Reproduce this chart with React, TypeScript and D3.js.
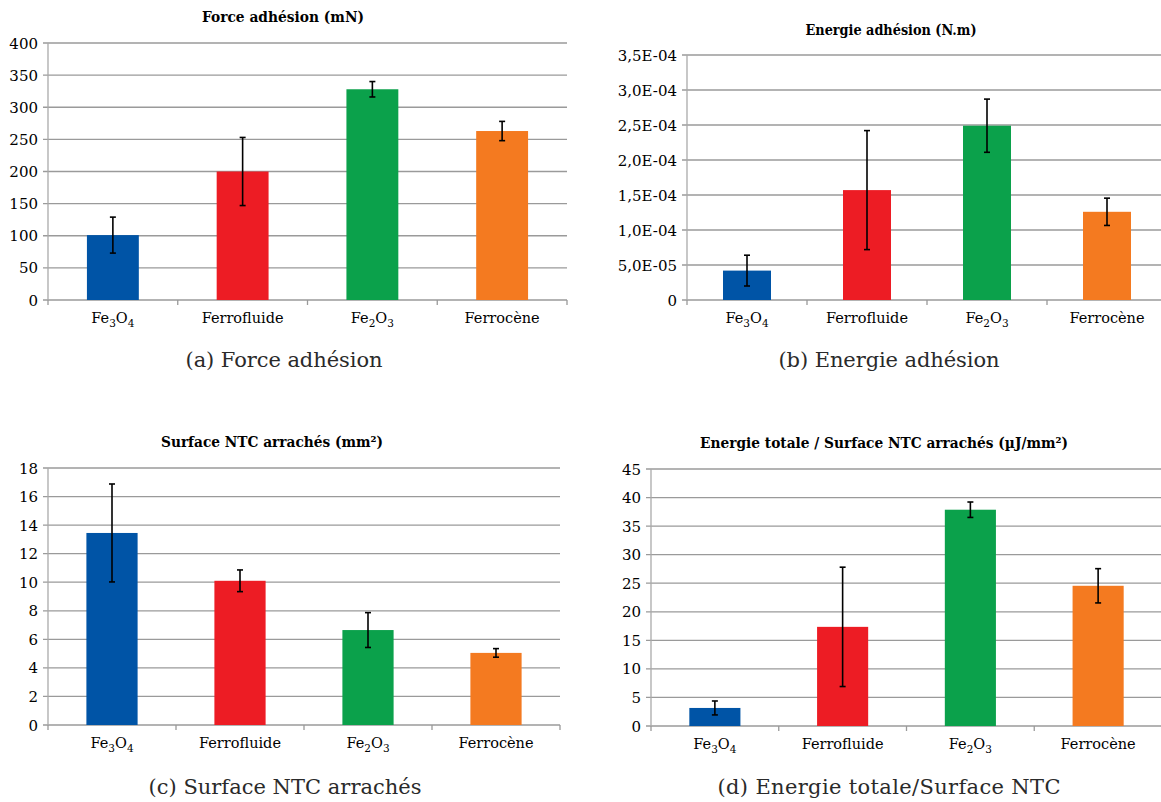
import React from "react";
import * as d3 from "d3";

const categories = ["Fe3O4", "Ferrofluide", "Fe2O3", "Ferrocène"];
const barColors = ["#0054a6", "#ed1c24", "#0ba14b", "#f47a20"];

const forceValues = [101, 200, 328, 263];
const forceErrors = [28, 53, 12, 15];
const forceTicks = [0, 50, 100, 150, 200, 250, 300, 350, 400];

const energyValues = [4.2e-5, 1.57e-4, 2.49e-4, 1.26e-4];
const energyErrors = [2.2e-5, 8.5e-5, 3.8e-5, 1.95e-5];
const energyTicks = [0, 5e-5, 1e-4, 1.5e-4, 2e-4, 2.5e-4, 3e-4, 3.5e-4];
const energyTickLabels = ["0", "5,0E-05", "1,0E-04", "1,5E-04", "2,0E-04", "2,5E-04", "3,0E-04", "3,5E-04"];

const surfaceValues = [13.45, 10.1, 6.65, 5.05];
const surfaceErrors = [3.43, 0.76, 1.22, 0.3];
const surfaceTicks = [0, 2, 4, 6, 8, 10, 12, 14, 16, 18];

const ratioValues = [3.16, 17.36, 37.87, 24.55];
const ratioErrors = [1.22, 10.45, 1.35, 3.0];
const ratioTicks = [0, 5, 10, 15, 20, 25, 30, 35, 40, 45];

const FONT = "DejaVu Serif";

type PanelProps = {
  left: number;
  right: number;
  top: number;
  bottom: number;
  values: number[];
  errors: number[];
  ticks: number[];
  tickLabels?: string[];
  title: string;
  titleX: number;
  titleY: number;
  titleW: number;
  caption: string;
  captionX: number;
  captionY: number;
  captionW: number;
};

function CatLabel({ text, x, y }: { text: string; x: number; y: number }) {
  const parts = text.match(/[^0-9]+|[0-9]+/g) || [text];
  return (
    <text x={x} y={y} textAnchor="middle" fontFamily={FONT} fontSize={14.5} fill="#000">
      {parts.map((p, i) =>
        /^[0-9]+$/.test(p) ? (
          <tspan key={i} fontSize={10.5} dy={3.5}>{p}</tspan>
        ) : (
          <tspan key={i} dy={i > 0 ? -3.5 : 0}>{p}</tspan>
        )
      )}
    </text>
  );
}

function Panel(p: PanelProps) {
  const x = d3.scaleBand<string>().domain(categories).range([p.left, p.right]).paddingInner(0).paddingOuter(0);
  const maxTick = p.ticks[p.ticks.length - 1];
  const y = d3.scaleLinear().domain([0, maxTick]).range([p.bottom, p.top]);
  const bw = x.bandwidth() * 0.4;
  const boundaries = d3.range(categories.length + 1).map((i) => p.left + i * x.bandwidth());
  return (
    <g>
      <text x={p.titleX} y={p.titleY} textAnchor="middle" fontFamily={FONT} fontWeight="bold" fontSize={14.5}
        textLength={p.titleW} lengthAdjust="spacingAndGlyphs" fill="#000">
        {p.title}
      </text>
      {p.ticks.map((t, i) => (
        <g key={i}>
          <line x1={p.left - 5} x2={p.right} y1={y(t)} y2={y(t)} stroke="#9a9a9a" strokeWidth={1.3} />
          <text x={p.left - 10} y={y(t) + 5.5} textAnchor="end" fontFamily={FONT} fontSize={15} fill="#000">
            {p.tickLabels ? p.tickLabels[i] : String(t)}
          </text>
        </g>
      ))}
      <line x1={p.left} x2={p.left} y1={p.top} y2={p.bottom} stroke="#aaaaaa" strokeWidth={1.3} />
      {boundaries.map((bx, i) => (
        <line key={i} x1={bx} x2={bx} y1={p.bottom} y2={p.bottom + 5} stroke="#9a9a9a" strokeWidth={1.3} />
      ))}
      {categories.map((c, i) => {
        const cx = (x(c) as number) + x.bandwidth() / 2;
        return (
          <rect key={c} x={cx - bw / 2} y={y(p.values[i])} width={bw} height={p.bottom - y(p.values[i])} fill={barColors[i]} />
        );
      })}
      {categories.map((c, i) => {
        const cx = (x(c) as number) + x.bandwidth() / 2;
        const hi = y(p.values[i] + p.errors[i]);
        const lo = y(p.values[i] - p.errors[i]);
        return (
          <g key={c} stroke="#000" strokeWidth={1.6}>
            <line x1={cx} x2={cx} y1={hi} y2={lo} />
            <line x1={cx - 3} x2={cx + 3} y1={hi} y2={hi} />
            <line x1={cx - 3} x2={cx + 3} y1={lo} y2={lo} />
          </g>
        );
      })}
      {categories.map((c) => (
        <CatLabel key={c} text={c} x={(x(c) as number) + x.bandwidth() / 2} y={p.bottom + 23} />
      ))}
      <text x={p.captionX} y={p.captionY} textAnchor="middle" fontFamily={FONT} fontSize={21}
        textLength={p.captionW} lengthAdjust="spacing" fill="#2a2a2a">
        {p.caption}
      </text>
    </g>
  );
}

export default function App() {
  return (
    <svg width={1161} height={802} style={{ position: "absolute", left: 0, top: 0 }}>
      <Panel left={48} right={567} top={43} bottom={300} values={forceValues} errors={forceErrors} ticks={forceTicks}
        title="Force adhésion (mN)" titleX={283} titleY={22} titleW={162}
        caption="(a) Force adhésion" captionX={284} captionY={367} captionW={197} />
      <Panel left={687} right={1167} top={55} bottom={300} values={energyValues} errors={energyErrors} ticks={energyTicks}
        tickLabels={energyTickLabels} title="Energie adhésion (N.m)" titleX={891} titleY={35} titleW={171}
        caption="(b) Energie adhésion" captionX={889} captionY={367} captionW={221} />
      <Panel left={48} right={560} top={468} bottom={725} values={surfaceValues} errors={surfaceErrors} ticks={surfaceTicks}
        title="Surface NTC arrachés (mm²)" titleX={272} titleY={447} titleW={222}
        caption="(c) Surface NTC arrachés" captionX={285} captionY={794} captionW={273} />
      <Panel left={651} right={1162} top={469} bottom={726} values={ratioValues} errors={ratioErrors} ticks={ratioTicks}
        title="Energie totale / Surface NTC arrachés (µJ/mm²)" titleX={884} titleY={448} titleW={368}
        caption="(d) Energie totale/Surface NTC" captionX={889} captionY={794} captionW={343} />
    </svg>
  );
}
